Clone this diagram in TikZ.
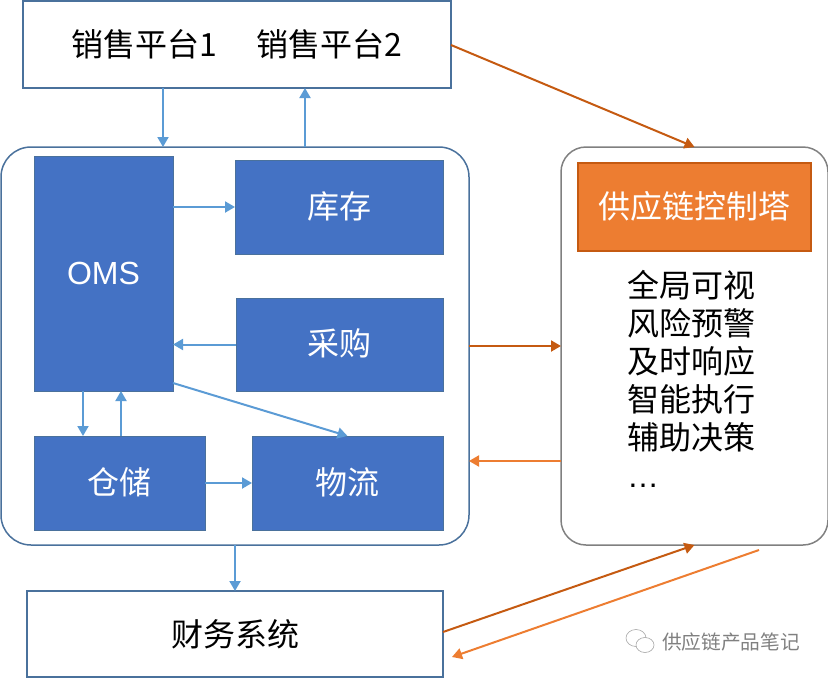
\documentclass[tikz,border=0pt]{standalone}
\usepackage{fontspec}
\setmainfont{Noto Sans CJK SC}
\newfontfamily\latinfont{Liberation Sans}
\usepackage{xcolor}
\usetikzlibrary{arrows.meta, positioning, shapes.geometric}
\definecolor{modblue}{HTML}{4472C4}
\definecolor{edgeblue}{HTML}{4A719C}
\definecolor{linkblue}{HTML}{5B9BD5}
\definecolor{towerorange}{HTML}{ED7D31}
\definecolor{linkbrown}{HTML}{C55A11}
\newcommand{\lifted}[1]{\raisebox{4pt}{#1}}
\tikzset{
  sizedbox/.style 2 args={minimum width=#1pt, minimum height=#2pt, inner sep=0pt, outer sep=0pt},
  sysbox/.style={draw=edgeblue, line width=1.5pt, fill=white, text=black, font=\fontsize{32}{36}\selectfont},
  modbox/.style={draw=edgeblue, line width=1pt, fill=modblue, text=white, font=\fontsize{32}{36}\selectfont},
  bluelink/.style={draw=linkblue, line width=2pt, -{Triangle[length=10pt,width=11pt]}},
  brownlink/.style={draw=linkbrown, line width=2pt, -{Triangle[length=10pt,width=11pt]}},
  orangelink/.style={draw=towerorange, line width=2pt, -{Triangle[length=10pt,width=11pt]}}
}
\begin{document}
\begin{tikzpicture}[x=1pt, y=-1pt]
\useasboundingbox (0,0) rectangle (828,678);

% outer boxes
\node[sysbox, sizedbox={428}{87}] (Sales) at (237,44.5) {\lifted{销售平台1\hspace{39pt}销售平台2}};
\node[draw=edgeblue, line width=1.5pt, rounded corners=30pt, sizedbox={468}{398}] (Core) at (235,346) {};
\node[draw=gray, line width=1.5pt, rounded corners=25pt, sizedbox={267}{398}] (Panel) at (694.5,346) {};
\node[sysbox, sizedbox={416}{86}] (Finance) at (235,634) {财务系统};

% modules
\node[modbox, sizedbox={139}{235}] (OMS) at (103.5,273.5) {\latinfont OMS};
\node[modbox, sizedbox={208}{94}] (Stock) at (339,207) {\lifted{库存}};
\node[modbox, sizedbox={207}{93}] (Purchase) at (339.5,344.5) {\lifted{采购}};
\node[modbox, sizedbox={171}{94}] (Store) at (119.5,483) {\lifted{仓储}};
\node[modbox, sizedbox={191}{94}] (Ship) at (347.5,483) {\lifted{物流}};

% control tower
\node[draw=linkbrown, line width=1.5pt, fill=towerorange, text=white, sizedbox={233}{88},
  font=\fontsize{32}{36}\selectfont] (Tower) at (694.5,207) {\lifted{供应链控制塔}};
\node[anchor=north west, inner sep=0pt, align=left, font=\fontsize{32}{38}\selectfont] (Duty) at (627,270)
  {全局可视\\风险预警\\及时响应\\智能执行\\辅助决策\\\latinfont …};

% arrows
\draw[bluelink] ([xshift=-74pt]Sales.south) -- ([xshift=-72pt]Core.north);
\draw[bluelink] ([xshift=70pt]Core.north) -- ([xshift=68pt]Sales.south);
\draw[bluelink] (OMS.east |- Stock.west) -- (Stock.west);
\draw[bluelink] (Purchase.west) -- (OMS.east |- Purchase.west);
\draw[bluelink] (OMS.south -| 83,0) -- (Store.north -| 83,0);
\draw[bluelink] (Store.north -| 121,0) -- (OMS.south -| 121,0);
\draw[bluelink] ([yshift=8pt]OMS.south east) -- (Ship.north);
\draw[bluelink] (Store.east) -- (Ship.west);
\draw[bluelink] (Core.south) -- (Finance.north);
\draw[brownlink] ([yshift=43pt]Sales.south east) -- (Panel.north);
\draw[brownlink] (Core.east) -- (Panel.west);
\draw[orangelink] (Panel.west |- 0,461) -- (Core.east |- 0,461);
\draw[brownlink] ([yshift=45pt]Finance.south east) -- (Panel.south);
\coordinate (Tail) at (759,550);
\draw[orangelink] (Tail) -- ([xshift=9pt,yshift=20pt]Finance.south east);

% watermark
\node[text=gray, inner sep=0pt, font=\fontsize{19.7}{24}\selectfont] (Mark) at (731,642) {供应链产品笔记};
\node[draw=gray!70, line width=.6pt, ellipse, minimum width=20pt, minimum height=17pt, inner sep=0pt] (BubbleA) at (636,638) {};
\node[draw=gray!70, line width=.6pt, fill=white, ellipse, minimum width=18pt, minimum height=15pt, inner sep=0pt] (BubbleB) at (645,645) {};
\end{tikzpicture}
\end{document}
